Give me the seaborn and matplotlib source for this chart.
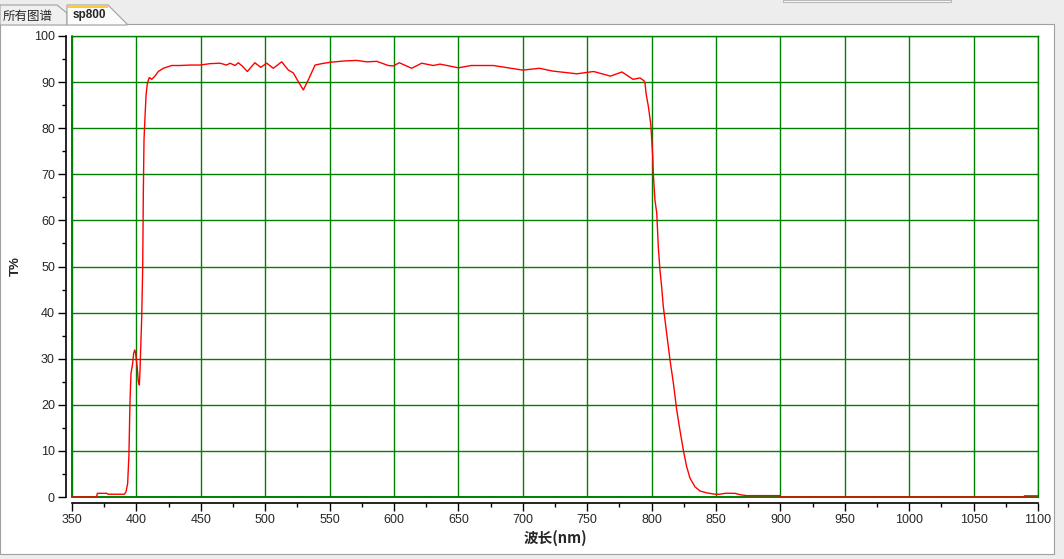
import numpy as np
import pandas as pd
import matplotlib
matplotlib.use("Agg")
import matplotlib.pyplot as plt
from matplotlib.patches import Rectangle, Polygon
from matplotlib.lines import Line2D
import seaborn as sns

# 透过率曲线 (波长 nm, T%)
wavelength = [350, 369, 369.7, 377, 378, 390.6, 391.9, 393.2, 394.2, 395, 395.8, 397.1, 397.9,
              398.7, 399.4, 400, 400.7, 401.5, 402.3, 402.8, 403.3, 403.8, 404.1, 404.9, 405.4,
              405.9, 406.7, 407.5, 408.5, 410, 411.9, 414.4, 417, 420.9, 427.4, 433.9, 441.6,
              449.4, 457.1, 464.9, 470.1, 472.7, 476.6, 479.1, 482.5, 486.1, 492, 496.5, 501.2,
              506.3, 512.8, 518, 521.8, 525.7, 529.6, 533.5, 538.7, 543.9, 550.3, 562, 571,
              578.8, 586.6, 595.6, 599.5, 604.1, 613.7, 621.5, 630.5, 635.7, 650, 660, 677,
              700, 713, 723, 742, 755, 768, 777, 785.6, 791, 794, 794.9, 795.7, 797.5, 799.3,
              800, 800.9, 801.3, 802.6, 804, 805.2, 806.5, 807.8, 809.1, 811.7, 814.3, 816.9,
              819.5, 822, 824.6, 827.2, 829.8, 833.7, 837.6, 842.8, 849.2, 853, 857, 864.8,
              868.6, 873.8, 899.7, 900.5, 1089, 1089.5, 1100]
transmittance = [0, 0, 0.8, 0.8, 0.6, 0.6, 1.1, 2.9, 9.1, 20.4, 26.8, 29.0, 31.2,
                 31.9, 31.2, 29.6, 27.9, 25.0, 24.3, 27.5, 31.9, 36.2, 38.8, 50.0, 66.6,
                 77.4, 82.5, 87.2, 89.7, 91.0, 90.6, 91.3, 92.3, 93.0, 93.6, 93.6, 93.7,
                 93.7, 94.0, 94.1, 93.7, 94.1, 93.6, 94.2, 93.4, 92.3, 94.2, 93.2, 94.1,
                 93.0, 94.4, 92.6, 92.0, 90.1, 88.3, 90.5, 93.7, 94.0, 94.3, 94.6, 94.7,
                 94.4, 94.5, 93.6, 93.5, 94.2, 93.0, 94.1, 93.6, 93.9, 93.1, 93.6, 93.6,
                 92.6, 93.0, 92.4, 91.8, 92.3, 91.3, 92.2, 90.6, 90.9, 90.3, 89.8, 87.5, 84.7, 81.0,
                 78.0, 73.8, 70.2, 64.4, 61.6, 54.3, 49.2, 45.6, 41.3, 35.5, 29.7, 24.7,
                 18.9, 14.5, 10.2, 6.6, 4.1, 2.2, 1.3, 0.9, 0.6, 0.6, 0.8, 0.8,
                 0.5, 0.3, 0.3, 0, 0, 0.25, 0.25]

x_ticks = list(range(350, 1101, 50))
y_ticks = list(range(0, 101, 10))

df = pd.DataFrame({"wl": wavelength, "T": transmittance})

sns.set_style("white")
plt.rcParams["font.family"] = ["Liberation Sans", "Noto Sans CJK SC", "DejaVu Sans"]

W, H = 1064, 559
fig = plt.figure(figsize=(W / 100, H / 100), dpi=100)
fig.patch.set_facecolor("#ededed")

def px(x, y):
    return x / W, 1 - y / H

# 白色面板和标签页
fig.patches.append(Rectangle(px(0, 554), 1054 / W, 530 / H, transform=fig.transFigure,
                             facecolor="white", edgecolor="#a0a0a0", lw=0.8, zorder=0))
fig.patches.append(Polygon([px(0, 25), px(0, 5), px(57, 5), px(67, 13), px(67, 25)],
                           closed=True, transform=fig.transFigure, facecolor="#f0f0f0",
                           edgecolor="#a0a0a0", lw=0.8, zorder=1))
fig.patches.append(Polygon([px(67, 25), px(67, 5), px(108, 5), px(127, 24), px(127, 25)],
                           closed=True, transform=fig.transFigure, facecolor="#fbfbfb",
                           edgecolor="#a0a0a0", lw=0.8, zorder=1))
fig.patches.append(Rectangle(px(68, 8), 40 / W, 3 / H, transform=fig.transFigure,
                             facecolor="#ffc83d", edgecolor="none", zorder=2))
fig.patches.append(Rectangle(px(783, 2), 168 / W, 2 / H, transform=fig.transFigure,
                             facecolor="white", edgecolor="#b8b8b8", lw=0.8, zorder=1))
fig.text(*px(3, 16), "所有图谱", fontsize=9, va="center", ha="left",
         family=["Noto Sans CJK SC", "DejaVu Sans"])
fig.text(*px(73, 15), "sp800", fontsize=8.5, fontweight="bold", va="center", ha="left")

ax = fig.add_axes([72 / W, 62 / H, 966 / W, 461 / H])
ax.set_zorder(5)
ax.set_facecolor("white")

green = "#008000"
sns.lineplot(data=df, x="wl", y="T", ax=ax, color="#ff0000", lw=1.0,
             estimator=None, sort=False, zorder=3)

ax.set_xlim(350, 1100)
ax.set_ylim(0, 100)
ax.set_xticks(x_ticks)
ax.set_yticks(y_ticks)
ax.set_xticks(list(range(375, 1100, 50)), minor=True)
ax.set_yticks(list(range(5, 100, 10)), minor=True)
ax.grid(True, which="major", color=green, lw=1.0)
ax.set_axisbelow(True)

for s in ["top", "right"]:
    ax.spines[s].set_color(green)
    ax.spines[s].set_linewidth(1.0)
for s in ["left", "bottom"]:
    ax.spines[s].set_color("black")
    ax.spines[s].set_linewidth(1.2)
    ax.spines[s].set_position(("outward", 4))
# 绿色外框左边和下边
ax.add_line(Line2D([0, 0], [0, 1], transform=ax.transAxes, color=green, lw=1.4, clip_on=False))
ax.add_line(Line2D([0, 1], [0, 0], transform=ax.transAxes, color=green, lw=1.4, clip_on=False))

ax.tick_params(which="major", length=5.8, width=1.0, color="black", pad=2.5, labelsize=9)
ax.tick_params(which="minor", length=2.9, width=1.0, color="black")
ax.tick_params(axis="both", which="both", bottom=True, left=True, direction="out")

ax.set_xlabel("波长(nm)", fontsize=10.5, fontweight="bold",
              family=["Noto Sans CJK SC", "DejaVu Sans"], labelpad=3)
ax.set_ylabel("T%", fontsize=9.5, fontweight="bold", labelpad=9)

fig.savefig("out.png", dpi=100, facecolor=fig.get_facecolor())
